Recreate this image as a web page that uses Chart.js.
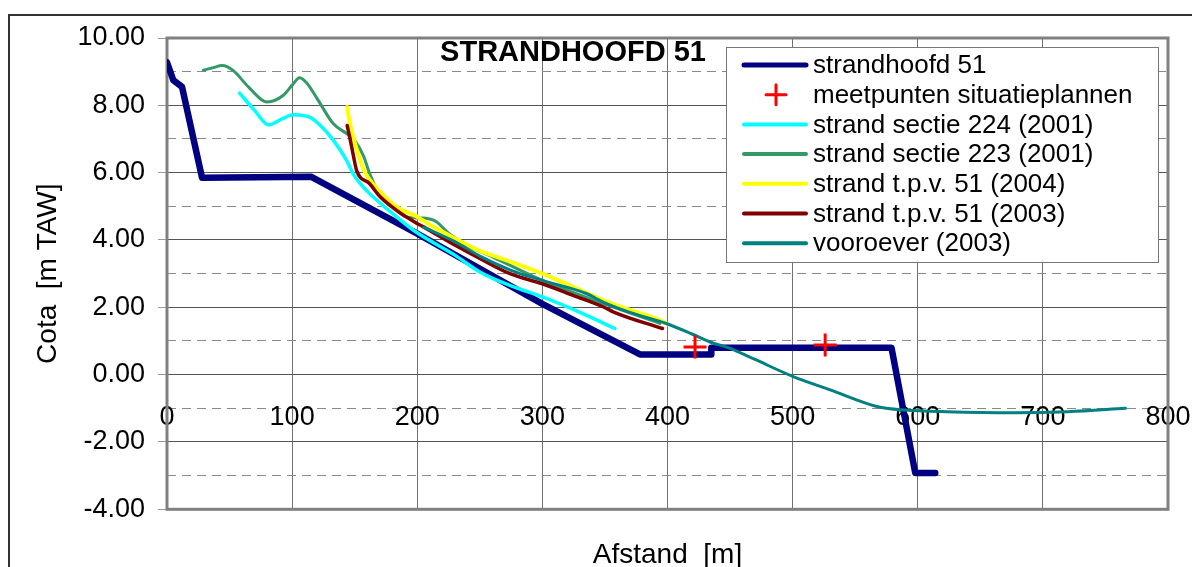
<!DOCTYPE html>
<html>
<head>
<meta charset="utf-8">
<script src="https://cdn.jsdelivr.net/npm/chart.js@4.4.1/dist/chart.umd.min.js"></script>
<style>
  html, body { margin: 0; padding: 0; background: #fff; overflow: hidden; }
  #wrap { position: relative; width: 1192px; height: 567px; overflow: hidden; }
  #frame { position: absolute; left: 8px; top: 14px; width: 1220px; height: 620px; border: 2px solid #333; box-sizing: border-box; }
  #c { position: absolute; left: 0; top: 0; }
</style>
</head>
<body>
<div id="wrap">
  <div id="frame"></div>
  <canvas id="c" width="1192" height="600"></canvas>
</div>
<script>
(() => {
  // assen
  const X_MIN = 0, X_MAX = 800, X_STEP = 100;
  const Y_MIN = -4, Y_MAX = 10, Y_STEP = 2;

  // strandhoofd 51 (profiel)
  const hoofdX = [0, 5, 12, 28, 115, 200, 300, 378, 435, 435, 579, 598, 614];
  const hoofdY = [9.28, 8.75, 8.55, 5.85, 5.88, 4.19, 2.1, 0.6, 0.6, 0.8, 0.8, -2.92, -2.92];

  // meetpunten situatieplannen
  const meetX = [422, 526];
  const meetY = [0.82, 0.88];

  // strand sectie 224 (2001)
  const s224X = [58, 70, 81, 92, 101, 114, 124, 133, 143.6, 149, 160, 175, 197, 230, 250, 274, 300, 330, 358];
  const s224Y = [8.36, 7.85, 7.42, 7.6, 7.72, 7.65, 7.35, 6.96, 6.36, 5.95, 5.45, 4.95, 4.29, 3.55, 3.05, 2.65, 2.31, 1.85, 1.37];

  // strand sectie 223 (2001)
  const s223X = [29, 37, 44, 53, 65, 80, 93, 100, 106, 112, 120, 133, 143.6, 150, 157, 162, 168, 180, 190, 197, 205, 215, 225, 237, 260, 300, 349, 394];
  const s223Y = [9.04, 9.12, 9.18, 9.03, 8.55, 8.1, 8.3, 8.6, 8.82, 8.65, 8.2, 7.45, 7.16, 6.96, 6.5, 5.97, 5.47, 5.0, 4.7, 4.66, 4.65, 4.55, 4.2, 3.89, 3.5, 2.8, 2.11, 1.52];

  // strand t.p.v. 51 (2004)
  const t2004X = [144, 146, 150, 157, 170, 183.5, 199.5, 210, 230, 250, 275, 300, 325, 349, 367, 394, 400];
  const t2004Y = [7.95, 7.5, 6.9, 6.1, 5.45, 4.98, 4.7, 4.45, 4.05, 3.68, 3.35, 3.0, 2.6, 2.21, 1.96, 1.62, 1.5];

  // strand t.p.v. 51 (2003)
  const t2003X = [144, 146, 149, 151.5, 162, 170, 183.5, 199.5, 205, 230, 250, 274, 300, 325, 349, 357, 396];
  const t2003Y = [7.4, 7.06, 6.5, 6.07, 5.67, 5.3, 4.88, 4.5, 4.39, 3.85, 3.45, 3.0, 2.7, 2.35, 2.01, 1.86, 1.37];

  // vooroever (2003)
  const voorX = [205, 230, 250, 275, 300, 335, 349, 370, 399, 420, 434, 450, 470, 500, 530, 569, 590, 623, 676, 720, 766];
  const voorY = [4.38, 3.95, 3.52, 3.1, 2.8, 2.41, 2.15, 1.85, 1.52, 1.2, 0.97, 0.78, 0.45, -0.05, -0.45, -0.96, -1.05, -1.1, -1.13, -1.1, -1.0];

  const FONT = "'Liberation Sans', Arial, sans-serif";
  Chart.defaults.font.family = FONT;
  Chart.defaults.color = '#000';

  const pts = (xs, ys) => xs.map((x, i) => ({ x: x, y: ys[i] }));

  const smooth = (label, xs, ys, color, width, order) => ({
    label, data: pts(xs, ys), borderColor: color, backgroundColor: color,
    borderWidth: width, pointRadius: 0, cubicInterpolationMode: 'monotone',
    borderCapStyle: 'round', borderJoinStyle: 'round', order
  });

  const datasets = [
    { label: 'strandhoofd 51', data: pts(hoofdX, hoofdY), borderColor: '#000080', backgroundColor: '#000080',
      borderWidth: 6.5, pointRadius: 0, tension: 0, borderJoinStyle: 'round', borderCapStyle: 'round', order: 7 },
    { label: 'meetpunten situatieplannen', data: pts(meetX, meetY), showLine: false, pointStyle: 'cross',
      pointRadius: 11.5, pointBorderWidth: 3, pointBorderColor: '#ff0000', borderColor: '#ff0000', backgroundColor: '#ff0000', order: 0 },
    smooth('strand sectie 224 (2001)', s224X, s224Y, '#00ffff', 3.5, 6),
    smooth('strand sectie 223 (2001)', s223X, s223Y, '#339966', 3, 5),
    smooth('strand t.p.v. 51 (2004)', t2004X, t2004Y, '#ffff00', 4, 4),
    smooth('strand t.p.v. 51 (2003)', t2003X, t2003Y, '#800000', 3.5, 3),
    smooth('vooroever (2003)', voorX, voorY, '#008080', 3, 2)
  ];

  // grijze rand rond plotgebied (onder de lijnen)
  const plotFrame = {
    id: 'plotFrame',
    beforeDatasetsDraw(chart) {
      const { ctx, chartArea: a } = chart;
      ctx.save();
      ctx.strokeStyle = '#808080';
      ctx.lineWidth = 3;
      ctx.strokeRect(a.left, a.top, a.right - a.left, a.bottom - a.top);
      ctx.restore();
    }
  };

  // titel binnen het plotgebied
  const innerTitle = {
    id: 'innerTitle',
    afterDatasetsDraw(chart) {
      const ctx = chart.ctx;
      ctx.save();
      ctx.font = "bold 29px " + FONT;
      ctx.fillStyle = '#000';
      ctx.textAlign = 'center';
      ctx.textBaseline = 'middle';
      ctx.fillText('STRANDHOOFD 51', 573, 53);
      ctx.restore();
    }
  };

  // legende in kader rechtsboven
  const boxLegend = {
    id: 'boxLegend',
    afterDraw(chart) {
      const ctx = chart.ctx;
      const bx = 726, by = 47, bw = 432, bh = 215;
      ctx.save();
      ctx.fillStyle = '#fff';
      ctx.fillRect(bx, by, bw, bh);
      ctx.strokeStyle = '#777';
      ctx.lineWidth = 1;
      ctx.strokeRect(bx + 0.5, by + 0.5, bw, bh);
      ctx.font = "26px " + FONT;
      ctx.textBaseline = 'middle';
      ctx.textAlign = 'left';
      chart.data.datasets.forEach((ds, i) => {
        const y = 65 + i * 29.7;
        ctx.strokeStyle = ds.borderColor;
        if (ds.pointStyle === 'cross') {
          ctx.lineWidth = 3;
          ctx.beginPath();
          ctx.moveTo(766, y); ctx.lineTo(786, y);
          ctx.moveTo(776, y - 10); ctx.lineTo(776, y + 10);
          ctx.stroke();
        } else {
          ctx.lineWidth = ds.borderWidth >= 5 ? 5 : 4;
          ctx.lineCap = 'round';
          ctx.beginPath();
          ctx.moveTo(744, y); ctx.lineTo(806, y);
          ctx.stroke();
        }
        ctx.fillStyle = '#000';
        ctx.fillText(ds.label, 813, y + 1);
      });
      ctx.restore();
    }
  };

  const noSidePad = s => { s.paddingLeft = 0; s.paddingRight = 0; };

  new Chart(document.getElementById('c'), {
    type: 'line',
    data: { datasets },
    options: {
      responsive: false,
      animation: false,
      parsing: true,
      layout: { padding: { top: 38, right: 24, bottom: 0, left: 0 } },
      plugins: { legend: { display: false }, tooltip: { enabled: false } },
      scales: {
        x: {
          type: 'linear', axis: 'x', position: 'bottom', min: X_MIN, max: X_MAX,
          ticks: { display: false, stepSize: X_STEP },
          grid: { color: '#707070', lineWidth: 1, drawTicks: false },
          border: { display: false },
          title: { display: true, text: 'Afstand  [m]', font: { size: 28 }, color: '#000', padding: { top: 0, bottom: 28 } },
          afterFit: s => { s.height = 90.7; noSidePad(s); }
        },
        x2: {
          type: 'linear', axis: 'x', position: { y: 0 }, min: X_MIN, max: X_MAX,
          ticks: { stepSize: X_STEP, padding: 18.5, font: { size: 27 }, color: '#000', maxRotation: 0, autoSkip: false },
          grid: { display: false },
          border: { display: false },
          afterFit: noSidePad
        },
        y: {
          type: 'linear', axis: 'y', position: 'left', min: Y_MIN, max: Y_MAX,
          ticks: { stepSize: Y_STEP, padding: 13, font: { size: 27 }, color: '#000', callback: v => Number(v).toFixed(2) },
          grid: { color: '#555', lineWidth: 1, tickLength: 9, tickColor: '#999' },
          border: { display: false },
          title: { display: true, text: 'Cota  [m TAW]', font: { size: 28 }, color: '#000', padding: { top: 31, bottom: 0 } },
          afterFit: s => { s.width = 167; }
        },
        y2: {
          type: 'linear', axis: 'y', position: 'left', min: Y_MIN, max: Y_MAX,
          ticks: { display: false, stepSize: 1 },
          grid: {
            color: c => (c.tick && Math.abs(c.tick.value) % 2 === 1) ? '#8a8a8a' : 'rgba(0,0,0,0)',
            lineWidth: 1, drawTicks: false
          },
          border: { display: false, dash: [9, 6] },
          afterFit: s => { s.width = 0; }
        }
      }
    },
    plugins: [plotFrame, innerTitle, boxLegend]
  });
})();
</script>
</body>
</html>
